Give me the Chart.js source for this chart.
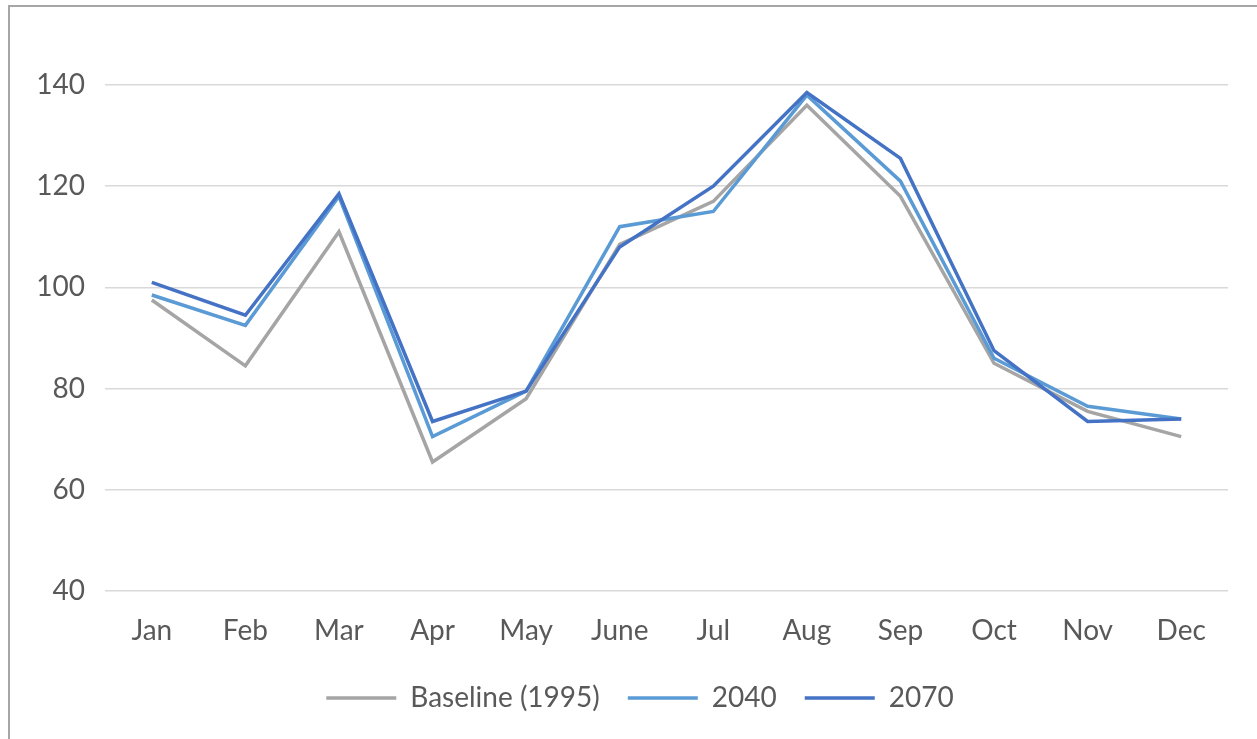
<!DOCTYPE html>
<html>
<head>
<meta charset="utf-8">
<script src="https://cdn.jsdelivr.net/npm/chart.js@4/dist/chart.umd.min.js"></script>
<style>
  html, body { margin: 0; padding: 0; background: #fff; }
  body { width: 1257px; height: 739px; position: relative; overflow: hidden; }
  #frame {
    position: absolute; left: 8px; top: 5px; right: -5px; bottom: -5px;
    border-top: 2px solid #a6a6a6; border-left: 2px solid #a6a6a6;
  }
  #wrap { position: absolute; left: 0; top: 0; width: 1257px; height: 739px; }
</style>
</head>
<body>
<div id="frame"></div>
<div id="wrap"><canvas id="chart"></canvas></div>
<script>
const months = ['Jan', 'Feb', 'Mar', 'Apr', 'May', 'June', 'Jul', 'Aug', 'Sep', 'Oct', 'Nov', 'Dec']
const baseline = [97.5, 84.5, 111, 65.5, 78, 108.5, 117, 136, 118, 85, 75.5, 70.5]
const y2040 = [98.5, 92.5, 118, 70.5, 79.5, 112, 115, 138, 121, 86, 76.5, 74]
const y2070 = [101, 94.5, 118.5, 73.5, 79.5, 108, 120, 138.5, 125.5, 87.5, 73.5, 74]
const yTicks = [40, 60, 80, 100, 120, 140]

const bColor = '#a5a5a5'
const c2040 = '#5b9bd5'
const c2070 = '#4472c4'
const textColor = '#595959'
const font = { family: 'Lato, "Open Sans", sans-serif', size: 28 }

function line(label, data, color, order) {
  return {
    label,
    data,
    borderColor: color,
    backgroundColor: color,
    borderWidth: 3.5,
    pointRadius: 0,
    tension: 0,
    order,
  }
}

// nudge the legend right so it sits centred like the original
const legendShift = {
  id: 'legendShift',
  afterLayout(chart) {
    chart.legend.left += 21
    chart.legend.right += 21
  }
}

new Chart(document.getElementById('chart'), {
  type: 'line',
  data: {
    labels: months,
    datasets: [
      line('Baseline (1995)', baseline, bColor, 3),
      line('2040', y2040, c2040, 2),
      line('2070', y2070, c2070, 1),
    ]
  },
  plugins: [legendShift],
  options: {
    responsive: true,
    maintainAspectRatio: false,
    animation: false,
    layout: { padding: { top: 85, right: 29, bottom: 17, left: 10 } },
    plugins: {
      tooltip: { enabled: false },
      legend: {
        position: 'bottom',
        labels: {
          usePointStyle: true,
          pointStyle: 'line',
          pointStyleWidth: 70,
          padding: 28,
          color: textColor,
          font,
          sort: (a, b) => a.datasetIndex - b.datasetIndex,
        }
      }
    },
    scales: {
      x: {
        offset: true,
        grid: { display: false, drawTicks: false },
        border: { display: false },
        ticks: { color: textColor, font, padding: 23 },
        afterFit: s => { s.height = 65 },
      },
      y: {
        min: 40,
        max: 140,
        afterBuildTicks: s => { s.ticks = yTicks.map(v => ({ value: v })) },
        grid: { color: '#d9d9d9', lineWidth: 1.5, drawTicks: false },
        border: { display: false },
        ticks: { color: textColor, font, padding: 20 },
        afterFit: s => { s.width = 95 },
      }
    }
  }
})
</script>
</body>
</html>
